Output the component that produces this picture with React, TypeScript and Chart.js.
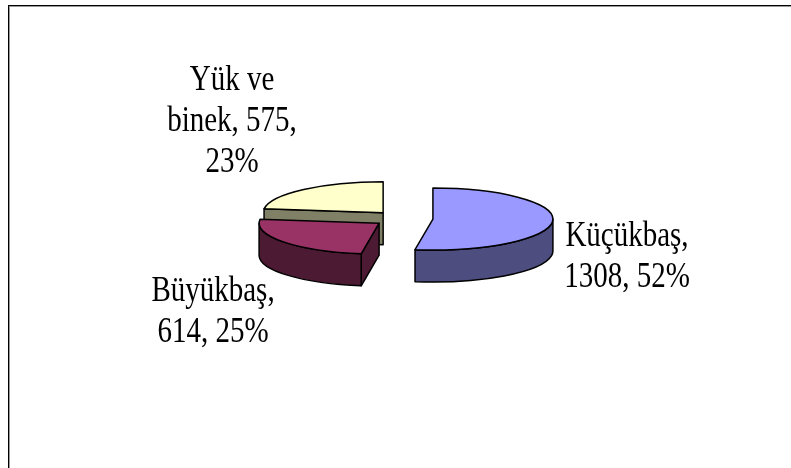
import React, { useEffect, useRef } from 'react';
import { Chart, registerables } from 'chart.js';

Chart.register(...registerables);

// ---- data ----
const categories = ['Küçükbaş', 'Büyükbaş', 'Yük ve binek'];
const values = [1308, 614, 575];
const topColors = ['#9999FF', '#993366', '#FFFFCC'];
const sideColors = ['#4D4D80', '#4D1A33', '#808066'];
const explode = [30, 30, 30];

// ---- styling / layout ----
const TILT = 0.258;
const DEPTH = 32;
const FONT = '29px "Liberation Serif", "Times New Roman", serif';
const TEXT_STRETCH = 1.25;
const LINE_H = 41;
const WRAP_WIDTH = 150;
const labelAnchors = [
  { x: 627, y: 246 },
  { x: 213, y: 301 },
  { x: 232, y: 90 },
];

const total = values.reduce((a, b) => a + b, 0);

function wrapText(ctx: CanvasRenderingContext2D, text: string, maxW: number): string[] {
  const words = text.split(' ');
  const lines: string[] = [];
  let cur = '';
  for (const w of words) {
    const test = cur ? cur + ' ' + w : w;
    if (cur && ctx.measureText(test).width > maxW) {
      lines.push(cur);
      cur = w;
    } else {
      cur = test;
    }
  }
  if (cur) lines.push(cur);
  return lines;
}

const framePlugin = {
  id: 'frame',
  beforeDraw(chart: any) {
    const ctx = chart.ctx as CanvasRenderingContext2D;
    const W = chart.width, H = chart.height;
    ctx.save();
    ctx.fillStyle = '#ffffff';
    ctx.fillRect(0, 0, W, H);
    ctx.fillStyle = '#000000';
    ctx.fillRect(8, 5, W - 8, 1);
    ctx.fillRect(8, 5, 1, H - 5);
    ctx.fillStyle = '#9a9a9a';
    ctx.fillRect(9, 6, W - 9, 1);
    ctx.fillRect(9, 6, 1, H - 6);
    ctx.restore();
  },
};

const pie3dPlugin = {
  id: 'pie3d',
  beforeDatasetsDraw(chart: any) {
    const ctx = chart.ctx as CanvasRenderingContext2D;
    const meta = chart.getDatasetMeta(0);
    const slices = meta.data.map((arc: any, i: number) => {
      const p = arc.getProps(['x', 'y', 'startAngle', 'endAngle', 'outerRadius'], true);
      const o = arc.options.offset || 0;
      const mid = (p.startAngle + p.endAngle) / 2;
      return {
        i,
        sx: p.x + o * Math.cos(mid),
        sy: p.y + o * Math.sin(mid) * TILT,
        a0: p.startAngle,
        a1: p.endAngle,
        r: p.outerRadius,
        fill: arc.options.backgroundColor,
        side: sideColors[i],
        stroke: arc.options.borderColor,
        lw: arc.options.borderWidth,
      };
    });
    slices.sort((a: any, b: any) => a.sy - b.sy);

    ctx.save();
    ctx.lineJoin = 'round';
    for (const s of slices) {
      const ry = s.r * TILT;
      const rim = (a: number, dz = 0): [number, number] => [s.sx + s.r * Math.cos(a), s.sy + ry * Math.sin(a) + dz];
      ctx.strokeStyle = s.stroke;
      ctx.lineWidth = s.lw;

      const wall = (a: number) => {
        const [x, y] = rim(a);
        ctx.beginPath();
        ctx.moveTo(s.sx, s.sy);
        ctx.lineTo(x, y);
        ctx.lineTo(x, y + DEPTH);
        ctx.lineTo(s.sx, s.sy + DEPTH);
        ctx.closePath();
        ctx.fillStyle = s.side;
        ctx.fill();
        ctx.stroke();
      };
      if (Math.cos(s.a0) < -1e-6) wall(s.a0);
      if (Math.cos(s.a1) > 1e-6) wall(s.a1);

      // outer curved wall (front half only)
      for (let k = -1; k <= 2; k++) {
        const lo = Math.max(s.a0, 2 * k * Math.PI);
        const hi = Math.min(s.a1, 2 * k * Math.PI + Math.PI);
        if (hi - lo > 1e-6) {
          ctx.beginPath();
          ctx.ellipse(s.sx, s.sy, s.r, ry, 0, lo, hi, false);
          const [hx, hy] = rim(hi, DEPTH);
          ctx.lineTo(hx, hy);
          ctx.ellipse(s.sx, s.sy + DEPTH, s.r, ry, 0, hi, lo, true);
          ctx.closePath();
          ctx.fillStyle = s.side;
          ctx.fill();
          ctx.stroke();
        }
      }

      // top face
      ctx.beginPath();
      ctx.moveTo(s.sx, s.sy);
      ctx.ellipse(s.sx, s.sy, s.r, ry, 0, s.a0, s.a1, false);
      ctx.closePath();
      ctx.fillStyle = s.fill;
      ctx.fill();
      ctx.stroke();
    }
    ctx.restore();
    return false;
  },
  afterDraw(chart: any) {
    const ctx = chart.ctx as CanvasRenderingContext2D;
    ctx.save();
    ctx.font = FONT;
    ctx.fillStyle = '#000000';
    ctx.textAlign = 'center';
    ctx.textBaseline = 'alphabetic';
    categories.forEach((cat, i) => {
      const pct = Math.round((values[i] / total) * 100);
      const text = `${cat}, ${values[i]}, ${pct}%`;
      const lines = wrapText(ctx, text, WRAP_WIDTH);
      const a = labelAnchors[i];
      lines.forEach((ln, j) => {
        ctx.save();
        ctx.translate(a.x, a.y + j * LINE_H);
        ctx.scale(1, TEXT_STRETCH);
        ctx.fillText(ln, 0, 0);
        ctx.restore();
      });
    });
    ctx.restore();
  },
};

export default function App() {
  const ref = useRef<HTMLCanvasElement | null>(null);
  useEffect(() => {
    if (!ref.current) return;
    const chart = new Chart(ref.current, {
      type: 'pie',
      data: {
        labels: categories,
        datasets: [
          {
            data: values,
            backgroundColor: topColors,
            borderColor: '#000000',
            borderWidth: 1.5,
            offset: explode,
            radius: 120,
          } as any,
        ],
      },
      options: {
        responsive: false,
        animation: false,
        events: [],
        layout: { padding: { left: 15, right: 0, top: 0, bottom: 31 } },
        plugins: {
          legend: { display: false },
          tooltip: { enabled: false },
        },
      } as any,
      plugins: [framePlugin, pie3dPlugin],
    });
    return () => chart.destroy();
  }, []);
  return (
    <div style={{ position: 'fixed', left: 0, top: 0, width: 791, height: 468, background: '#fff' }}>
      <canvas ref={ref} width={791} height={468} style={{ width: 791, height: 468, display: 'block' }} />
    </div>
  );
}
